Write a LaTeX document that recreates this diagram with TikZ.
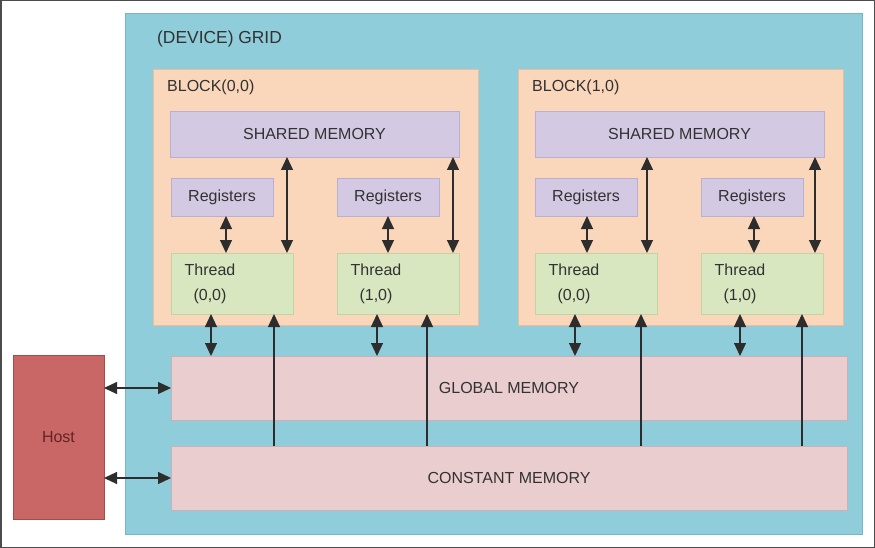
\documentclass[tikz,border=0pt]{standalone}
\usepackage{fontspec}
\setmainfont{Liberation Sans}
\usetikzlibrary{arrows.meta}
\definecolor{gridc}{RGB}{143,205,219}
\definecolor{gridb}{RGB}{118,182,198}
\definecolor{blockc}{RGB}{250,214,186}
\definecolor{blockb}{RGB}{232,190,160}
\definecolor{lavc}{RGB}{212,201,227}
\definecolor{lavb}{RGB}{186,175,208}
\definecolor{grnc}{RGB}{217,231,192}
\definecolor{grnb}{RGB}{192,212,165}
\definecolor{pinkc}{RGB}{234,205,207}
\definecolor{pinkb}{RGB}{205,176,181}
\definecolor{hostc}{RGB}{201,102,102}
\definecolor{hostb}{RGB}{168,74,74}
\definecolor{txt}{RGB}{50,50,50}
\definecolor{hosttxt}{RGB}{100,36,36}
\definecolor{arr}{RGB}{45,45,45}
\tikzset{
  base/.style={rectangle, inner sep=0pt, outer sep=0pt, anchor=north west, line width=0.8pt,
    text=txt, font=\fontsize{16}{19}\selectfont},
  gridbox/.style={base, fill=gridc, draw=gridb},
  blockbox/.style={base, fill=blockc, draw=blockb},
  lavbox/.style={base, fill=lavc, draw=lavb},
  thrbox/.style={base, fill=grnc, draw=grnb},
  membox/.style={base, fill=pinkc, draw=pinkb},
  hostbox/.style={base, fill=hostc, draw=hostb, text=hosttxt},
  lbl/.style={inner sep=0pt, text=txt, font=\fontsize{16}{25}\selectfont},
  dar/.style={{Triangle[length=13pt,width=12pt]}-{Triangle[length=13pt,width=12pt]}, draw=arr, fill=arr, line width=1.2pt},
  sar/.style={-{Triangle[length=13pt,width=12pt]}, draw=arr, fill=arr, line width=1.2pt}
}
\begin{document}
\begin{tikzpicture}[x=1pt,y=-1pt]
\useasboundingbox (0,0) rectangle (875,548);
\draw[line width=1.5pt, draw=black!70] (0.75,0.75) rectangle (874.25,547.25);
% grid
\node[gridbox, minimum width=737pt, minimum height=521pt] (grid) at (125,13) {};
\node[lbl, anchor=west, font=\fontsize{17.4}{20}\selectfont] (gridlbl) at (157,39) {(DEVICE) GRID};
% blocks
\node[blockbox, minimum width=325pt, minimum height=256pt] (b0) at (153,69) {};
\node[blockbox, minimum width=325pt, minimum height=256pt] (b1) at (518,69) {};
\node[lbl, anchor=west] (b0lbl) at (167,87) {BLOCK(0,0)};
\node[lbl, anchor=west] (b1lbl) at (532,87) {BLOCK(1,0)};
% shared memories
\node[lavbox, minimum width=289pt, minimum height=46pt] (sh0) at (170,111) {SHARED MEMORY};
\node[lavbox, minimum width=289pt, minimum height=46pt] (sh1) at (535,111) {SHARED MEMORY};
% registers
\node[lavbox, minimum width=102pt, minimum height=38pt] (r00) at (171,178) {Registers};
\node[lavbox, minimum width=102pt, minimum height=38pt] (r01) at (337,178) {Registers};
\node[lavbox, minimum width=102pt, minimum height=38pt] (r10) at (535,178) {Registers};
\node[lavbox, minimum width=102pt, minimum height=38pt] (r11) at (701,178) {Registers};
% threads
\node[thrbox, minimum width=122pt, minimum height=61pt] (t00) at (171,253) {};
\node[thrbox, minimum width=122pt, minimum height=61pt] (t01) at (337,253) {};
\node[thrbox, minimum width=122pt, minimum height=61pt] (t10) at (535,253) {};
\node[thrbox, minimum width=122pt, minimum height=61pt] (t11) at (701,253) {};
\node[lbl, align=center] (t00l) at ([xshift=39pt]t00.west) {Thread\\(0,0)};
\node[lbl, align=center] (t01l) at ([xshift=39pt]t01.west) {Thread\\(1,0)};
\node[lbl, align=center] (t10l) at ([xshift=39pt]t10.west) {Thread\\(0,0)};
\node[lbl, align=center] (t11l) at ([xshift=39pt]t11.west) {Thread\\(1,0)};
% memories
\node[membox, minimum width=676pt, minimum height=64pt] (glob) at (171,356) {GLOBAL MEMORY};
\node[membox, minimum width=676pt, minimum height=64pt] (const) at (171,446) {CONSTANT MEMORY};
% host
\node[hostbox, minimum width=91pt, minimum height=164pt] (host) at (13,355) {Host};
% register <-> thread
\draw[dar] (226,0 |- r00.south) -- (226,0 |- t00.north);
\draw[dar] (388,0 |- r01.south) -- (388,0 |- t01.north);
\draw[dar] (587,0 |- r10.south) -- (587,0 |- t10.north);
\draw[dar] (754,0 |- r11.south) -- (754,0 |- t11.north);
% shared <-> thread
\draw[dar] (287,0 |- sh0.south) -- (287,0 |- t00.north);
\draw[dar] (453,0 |- sh0.south) -- (453,0 |- t01.north);
\draw[dar] (647,0 |- sh1.south) -- (647,0 |- t10.north);
\draw[dar] (815,0 |- sh1.south) -- (815,0 |- t11.north);
% thread <-> global
\draw[dar] (211,0 |- t00.south) -- (211,0 |- glob.north);
\draw[dar] (377,0 |- t01.south) -- (377,0 |- glob.north);
\draw[dar] (575,0 |- t10.south) -- (575,0 |- glob.north);
\draw[dar] (740,0 |- t11.south) -- (740,0 |- glob.north);
% constant -> thread
\draw[sar] (274,0 |- const.north) -- (274,0 |- t00.south);
\draw[sar] (427,0 |- const.north) -- (427,0 |- t01.south);
\draw[sar] (641,0 |- const.north) -- (641,0 |- t10.south);
\draw[sar] (802,0 |- const.north) -- (802,0 |- t11.south);
% host <-> memories
\draw[dar] (host.east |- 0,388) -- (glob.west |- 0,388);
\draw[dar] (host.east |- 0,478) -- (const.west |- 0,478);
\end{tikzpicture}
\end{document}
